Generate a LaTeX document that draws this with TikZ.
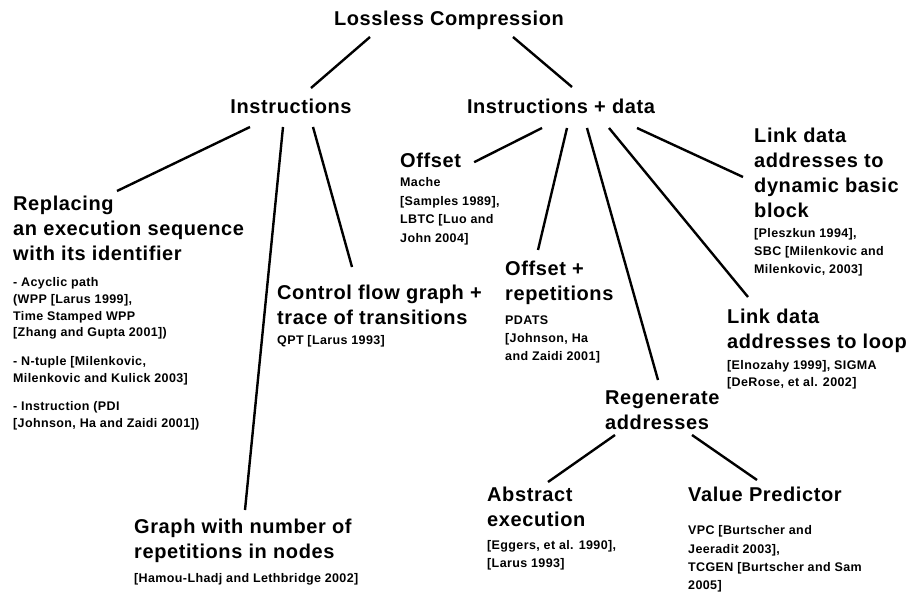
\documentclass[tikz,border=0pt]{standalone}
\usepackage{fontspec}
\setmainfont{Liberation Sans}[LetterSpace=3]
\usetikzlibrary{calc}
\tikzset{
  head/.style={font=\fontsize{20}{25}\selectfont\bfseries, inner sep=0pt, align=left, anchor=north west},
  headc/.style={font=\fontsize{20}{25}\selectfont\bfseries, inner sep=0pt, anchor=base},
  cite/.style={font=\fontsize{12.5}{17.5}\selectfont\bfseries, inner sep=0pt, align=left, anchor=north west},
  conn/.style={line width=2.4pt, black},
}
\begin{document}
\begin{tikzpicture}[x=1pt,y=-1pt]
\useasboundingbox[fill=white] (0,0) rectangle (912,593);
% top levels
\node[headc] (root) at (449,26) {Lossless Compression};
\node[headc] (instr) at (291,114) {Instructions};
\node[headc] (instrdata) at (561,114) {Instructions + data};
% headings
\node[head] (repl) at (13,195.6) {Replacing\\an execution sequence\\with its identifier};
\node[head] (cfg) at (277,284.6) {Control flow graph +\\trace of transitions};
\node[head] (offset) at (400,152.6) {Offset};
\node[head] (offrep) at (505,260.6) {Offset +\\repetitions};
\node[head] (linkdyn) at (754,127.6) {Link data\\addresses to\\dynamic basic\\block};
\node[head] (linkloop) at (727,308.6) {Link data\\addresses to loop};
\node[head] (regen) at (605,390.6) {Regenerate\\addresses};
\node[head] (abstr) at (487,486.6) {Abstract\\execution};
\node[head] (valpred) at (688,486.6) {Value Predictor};
\node[head] (graph) at (134,519) {Graph with number of\\repetitions in nodes};
% citations
\node[cite, font=\fontsize{12.5}{16.7}\selectfont\bfseries] (replcite) at (13,277.5)
  {- Acyclic path\\(WPP {[}Larus 1999],\\Time Stamped WPP\\{[}Zhang and Gupta 2001])\\[12pt]
   - N-tuple {[}Milenkovic,\\Milenkovic and Kulick 2003]\\[12pt]
   - Instruction (PDI\\{[}Johnson, Ha and Zaidi 2001])};
\node[cite] (qpt) at (277,335.5) {QPT {[}Larus 1993]};
\node[cite, font=\fontsize{12.5}{18.5}\selectfont\bfseries] (offcite) at (400,177.5) {Mache\\{[}Samples 1989],\\LBTC {[}Luo and\\John 2004]};
\node[cite, font=\fontsize{12.5}{18}\selectfont\bfseries] (pdats) at (505,315.5) {PDATS\\{[}Johnson, Ha\\and Zaidi 2001]};
\node[cite, font=\fontsize{12.5}{18}\selectfont\bfseries] (plesz) at (754,228.5) {{[}Pleszkun 1994],\\SBC {[}Milenkovic and\\Milenkovic, 2003]};
\node[cite, font=\fontsize{12.5}{17}\selectfont\bfseries] (elno) at (727,360.5) {{[}Elnozahy 1999], SIGMA\\{[}DeRose, et al. 2002]};
\node[cite, font=\fontsize{12.5}{18}\selectfont\bfseries] (eggers) at (487,540.5) {{[}Eggers, et al. 1990],\\{[}Larus 1993]};
\node[cite, font=\fontsize{12.5}{18.3}\selectfont\bfseries] (vpc) at (688,525.5) {VPC {[}Burtscher and\\Jeeradit 2003],\\TCGEN {[}Burtscher and Sam\\2005]};
\node[cite] (hamou) at (134,573.5) {{[}Hamou-Lhadj and Lethbridge 2002]};
% connectors
\draw[conn] ($(root.base)+(-79,11)$) -- ($(instr.base)+(20,-26)$);
\draw[conn] ($(root.base)+(64,11)$) -- ($(instrdata.base)+(11,-27)$);
\draw[conn] ($(instr.base)+(-41,13)$) -- ($(repl.north west)+(104,-4.6)$);
\draw[conn] ($(instr.base)+(-8,13)$) -- ($(graph.north west)+(111,-9)$);
\draw[conn] ($(instr.base)+(22,13)$) -- ($(cfg.north west)+(75,-17.6)$);
\draw[conn] ($(instrdata.base)+(-19,14)$) -- ($(offset.east)+(13,2)$);
\draw[conn] ($(instrdata.base)+(6,14)$) -- ($(offrep.north west)+(33,-10.6)$);
\draw[conn] ($(instrdata.base)+(26,14)$) -- ($(regen.north west)+(53,-10.6)$);
\draw[conn] ($(instrdata.base)+(48,14)$) -- ($(linkloop.north west)+(21,-11.6)$);
\draw[conn] ($(instrdata.base)+(76,14)$) -- ($(linkdyn.north west)+(-11,49.4)$);
\draw[conn] ($(regen.north west)+(10,44.4)$) -- ($(abstr.north west)+(61,-4.6)$);
\draw[conn] ($(regen.north west)+(87,44.4)$) -- ($(valpred.north west)+(69,-6.6)$);
\end{tikzpicture}
\end{document}
